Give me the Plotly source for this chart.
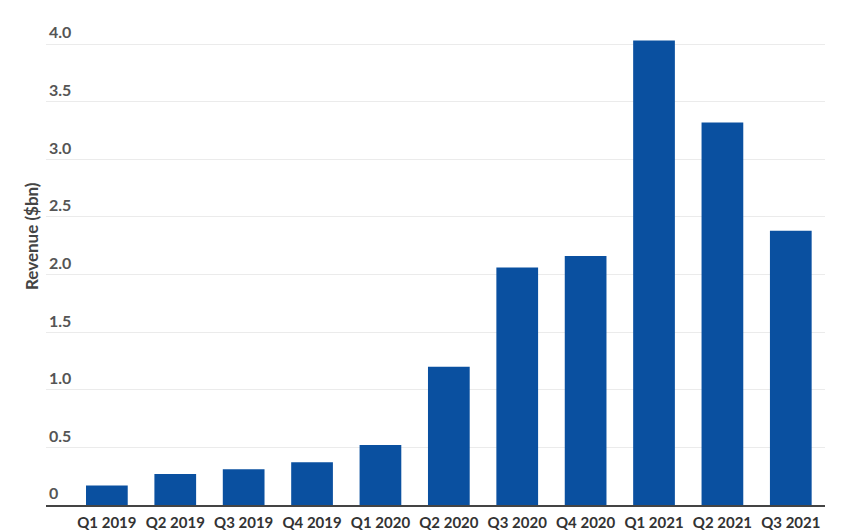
import plotly.graph_objects as go

quarters = ["Q1 2019", "Q2 2019", "Q3 2019", "Q4 2019", "Q1 2020", "Q2 2020",
            "Q3 2020", "Q4 2020", "Q1 2021", "Q2 2021", "Q3 2021"]
revenue = [0.17, 0.27, 0.31, 0.37, 0.52, 1.20, 2.06, 2.16, 4.03, 3.32, 2.38]
y_ticks = [0, 0.5, 1.0, 1.5, 2.0, 2.5, 3.0, 3.5, 4.0]
y_tick_text = ["0", "0.5", "1.0", "1.5", "2.0", "2.5", "3.0", "3.5", "4.0"]

font_family = "Lato, 'Open Sans', sans-serif"

fig = go.Figure(go.Bar(
    x=quarters, y=revenue,
    marker=dict(color="#0a50a0", line=dict(width=0)),
    hoverinfo="x+y",
))

plot_top, plot_bottom = 21, 505
plot_h = plot_bottom - plot_top

fig.update_layout(
    width=850, height=530,
    margin=dict(l=46, r=25, t=plot_top, b=530 - plot_bottom, autoexpand=False),
    paper_bgcolor="white", plot_bgcolor="white",
    bargap=0.39,
    showlegend=False,
    font=dict(family=font_family, color="#333333"),
    xaxis=dict(
        type="category",
        range=[-0.89, 10.5],
        automargin=False,
        showgrid=False,
        showline=True, linecolor="#444444", linewidth=2,
        ticks="",
        tickfont=dict(size=15, color="#333333", family=font_family, weight=700),
        ticklabelstandoff=3,
    ),
    yaxis=dict(
        range=[0, 4.2],
        automargin=False,
        tickvals=y_ticks, ticktext=y_tick_text,
        showgrid=True, gridcolor="#ebebeb", gridwidth=1,
        zeroline=False,
        ticks="",
        ticklabelposition="inside top",
        tickfont=dict(size=16, color="#555555", family=font_family, weight=700),
    ),
    annotations=[dict(
        text="Revenue ($bn)", textangle=-90,
        xref="paper", yref="paper",
        x=(31 - 46) / 779, y=(plot_bottom - 236) / plot_h,
        xanchor="center", yanchor="middle",
        showarrow=False,
        font=dict(size=17, color="#444444", family=font_family, weight=700),
    )],
)

fig.write_html(
    "out.html",
    config={"displayModeBar": False},
    post_script="document.body.style.margin='0';document.body.style.overflow='hidden';",
)
